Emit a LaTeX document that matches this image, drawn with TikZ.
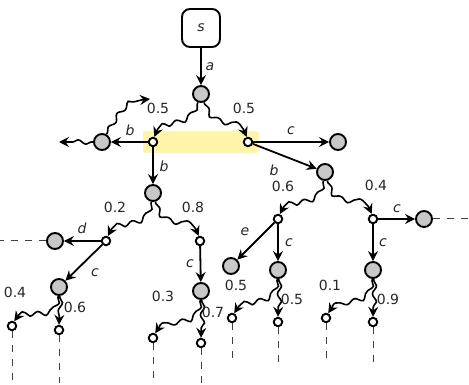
\documentclass[tikz,border=0pt]{standalone}
\usepackage{fontspec}
\setmainfont{DejaVu Sans}
\usetikzlibrary{arrows.meta,decorations.pathmorphing}
\definecolor{hl}{RGB}{255,245,170}
\definecolor{stategray}{RGB}{200,200,200}
\begin{document}
\begin{tikzpicture}[x=1pt,y=-1pt,
  every node/.style={font=\fontsize{14}{16}\selectfont,text=black!85},
  state/.style={circle,draw,line width=1.9pt,fill=stategray,minimum size=16pt,inner sep=0pt},
  choice/.style={circle,draw,line width=1.9pt,fill=white,minimum size=8.5pt,inner sep=0pt},
  start/.style={draw,line width=1.9pt,rounded corners=8pt,minimum size=38pt,inner sep=0pt},
  tip/.style={-{Stealth[length=10pt,width=10pt,inset=3.5pt]}},
  act/.style={line width=1.8pt,tip},
  prob/.style={line width=1.6pt,tip,
    decorate,decoration={snake,amplitude=2.2pt,segment length=16pt,pre length=2pt,post length=8pt}},
  cont/.style={line width=1pt,dash pattern=on 7pt off 7pt,black!75},
  lbl/.style={inner sep=0pt},
]
\useasboundingbox (0,0) rectangle (469,385);
\fill[hl,rounded corners=3pt] (143,131) rectangle (259,153);

% top of the tree
\node[start] (s) at (201,28) {\itshape s};
\node[state] (g0) at (201,94) {};
\node[choice] (w1) at (153,142) {};
\node[choice] (w2) at (248,142) {};
\node[state] (gL) at (102,142) {};
\node[state] (gB) at (153,193) {};
\node[state] (gR) at (338,142) {};
\node[state] (gBR) at (325,172) {};
\coordinate (upE) at (150,99);
\coordinate (leftE) at (59,142);

% left subtree
\node[choice] (w3) at (106,241) {};
\node[choice] (w4) at (200,241) {};
\node[state] (gD) at (55,241) {};
\node[state] (gC) at (59,287) {};
\node[state] (gC2) at (201,291) {};
\node[choice] (l1) at (12,326) {};
\node[choice] (l2) at (59,330) {};
\node[choice] (l3) at (153,338) {};
\node[choice] (l4) at (201,343) {};
\coordinate (dL) at (0,241);
\coordinate (l1e) at (12,383);
\coordinate (l2e) at (59,383);
\coordinate (l3e) at (153,383);
\coordinate (l4e) at (201,383);

% right subtree
\node[choice] (w5) at (278,219) {};
\node[choice] (w6) at (373,219) {};
\node[state] (gE) at (231,266) {};
\node[state] (gF) at (278,270) {};
\node[state] (gG) at (424,219) {};
\node[state] (gH) at (373,270) {};
\node[choice] (r1) at (232,318) {};
\node[choice] (r2) at (278,322) {};
\node[choice] (r3) at (326,318) {};
\node[choice] (r4) at (373,322) {};
\coordinate (dR) at (469,219);
\coordinate (r1e) at (232,365);
\coordinate (r2e) at (278,365);
\coordinate (r3e) at (326,362);
\coordinate (r4e) at (373,365);

% actions
\draw[act] (s) -- (g0);
\draw[act] (w1) -- (gL);
\draw[act] (w1) -- (gB);
\draw[act] (w2) -- (gR);
\draw[act] (w2) -- (gBR);
\draw[act] (w3) -- (gD);
\draw[act] (w3) -- (gC);
\draw[act] (w4) -- (gC2);
\draw[act] (w5) -- (gE);
\draw[act] (w5) -- (gF);
\draw[act] (w6) -- (gG);
\draw[act] (w6) -- (gH);

% probabilistic outcomes
\draw[prob] (g0) to[out=-110,in=75,looseness=1.3] (w1);
\draw[prob] (g0) to[out=-70,in=105,looseness=1.3] (w2);
\draw[prob] (gL) to[out=60,in=180] (upE);
\draw[prob] (gL) -- (leftE);
\draw[prob] (gB) to[out=-100,in=70,looseness=1.3] (w3);
\draw[prob] (gB) to[out=-75,in=105,looseness=1.3] (w4);
\draw[prob] (gBR) to[out=-100,in=70,looseness=1.3] (w5);
\draw[prob] (gBR) to[out=-75,in=105,looseness=1.3] (w6);
\draw[prob] (gC) to[out=-95,in=65,looseness=1.3] (l1);
\draw[prob] (gC) to[out=-85,in=90,looseness=1.2] (l2);
\draw[prob] (gC2) to[out=-95,in=65,looseness=1.3] (l3);
\draw[prob] (gC2) to[out=-85,in=90,looseness=1.2] (l4);
\draw[prob] (gF) to[out=-95,in=65,looseness=1.3] (r1);
\draw[prob] (gF) to[out=-85,in=90,looseness=1.2] (r2);
\draw[prob] (gH) to[out=-95,in=65,looseness=1.3] (r3);
\draw[prob] (gH) to[out=-85,in=90,looseness=1.2] (r4);

% continuations
\draw[cont] (gD) -- (dL);
\draw[cont] (gG) -- (dR);
\foreach \n in {l1,l2,l3,l4,r1,r2,r3,r4} \draw[cont] (\n) -- (\n e);

% labels
\node[lbl] (la) at (210,67) {\itshape a};
\node[lbl] (p1) at (158,108) {0.5};
\node[lbl] (p2) at (244,108) {0.5};
\node[lbl] (lb1) at (130,130) {\itshape b};
\node[lbl] (lb2) at (164,166) {\itshape b};
\node[lbl] (lc1) at (291,131) {\itshape c};
\node[lbl] (lb3) at (274,170) {\itshape b};
\node[lbl] (p3) at (283,186) {0.6};
\node[lbl] (p4) at (376,185) {0.4};
\node[lbl] (le) at (245,232) {\itshape e};
\node[lbl] (lc2) at (289,243) {\itshape c};
\node[lbl] (lc3) at (383,243) {\itshape c};
\node[lbl] (lc4) at (397,209) {\itshape c};
\node[lbl] (p5) at (236,285) {0.5};
\node[lbl] (p6) at (292,299) {0.5};
\node[lbl] (p7) at (330,285) {0.1};
\node[lbl] (p8) at (388,299) {0.9};
\node[lbl] (p9) at (115,207) {0.2};
\node[lbl] (p10) at (193,207) {0.8};
\node[lbl] (ld) at (82,228) {\itshape d};
\node[lbl] (lc5) at (95,273) {\itshape c};
\node[lbl] (lc6) at (190,264) {\itshape c};
\node[lbl] (p11) at (15,292) {0.4};
\node[lbl] (p12) at (75,307) {0.6};
\node[lbl] (p13) at (163,296) {0.3};
\node[lbl] (p14) at (213,312) {0.7};
\end{tikzpicture}
\end{document}
